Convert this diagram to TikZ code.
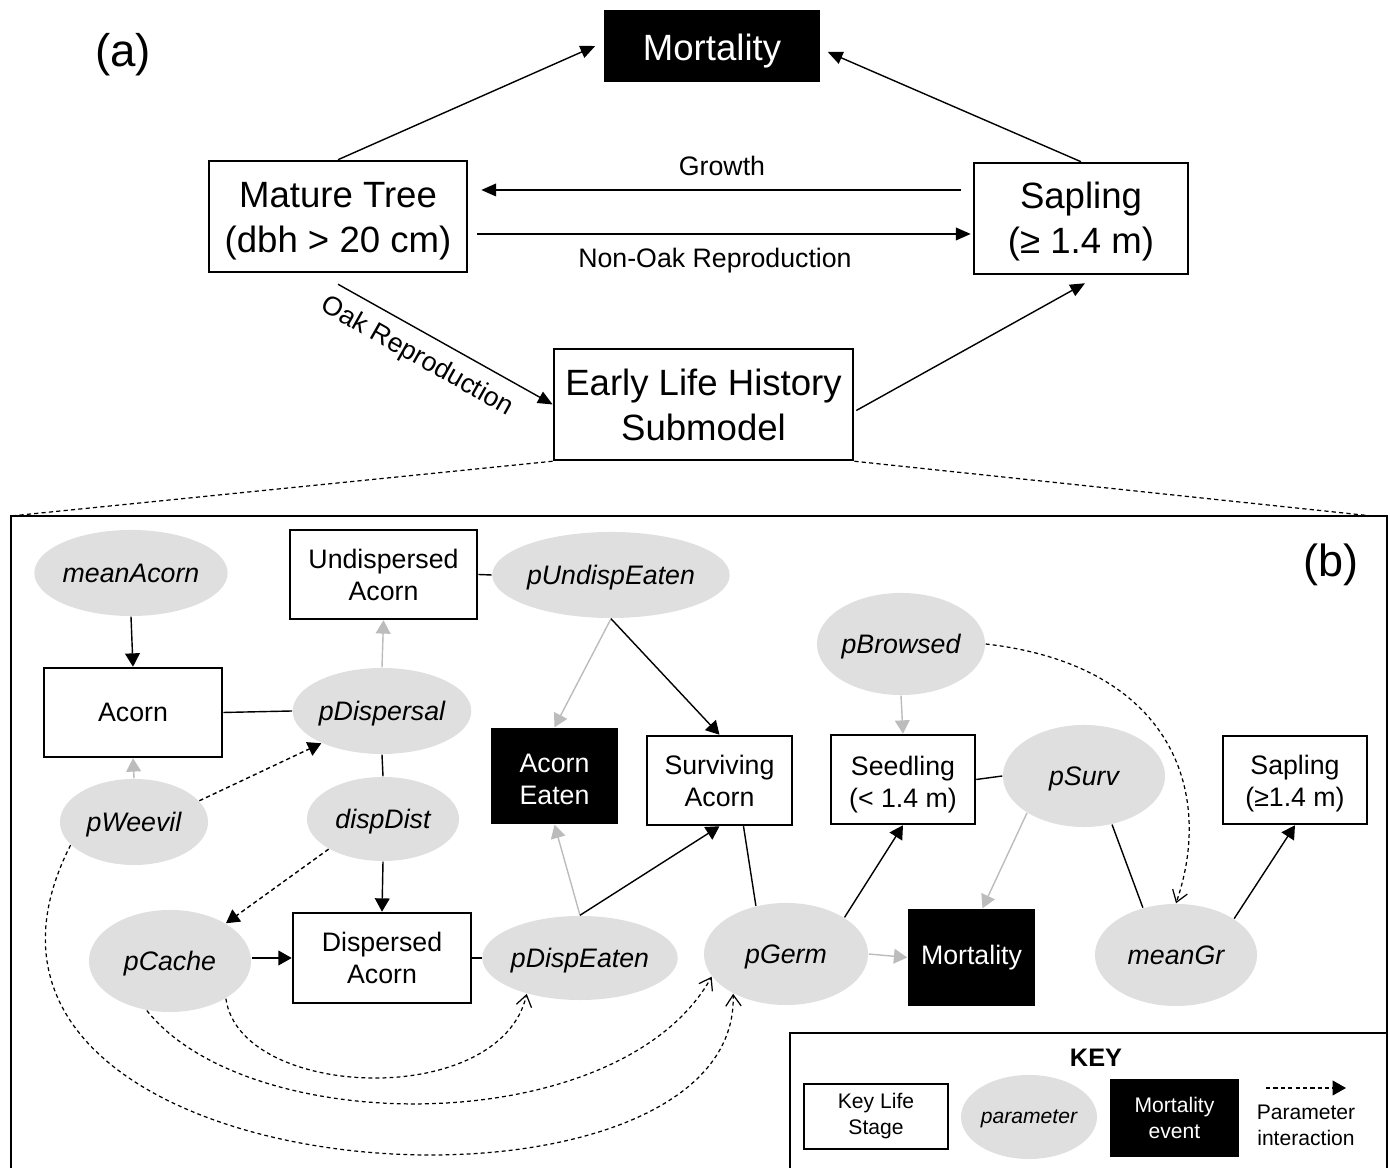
\documentclass[tikz,border=0pt]{standalone}
\usepackage{fontspec}
\setmainfont{Liberation Sans}
\usetikzlibrary{arrows.meta,shapes.geometric,calc}
\definecolor{ellgray}{RGB}{223,223,223}
\definecolor{arrgray}{RGB}{188,188,188}
\newcommand\fsz[2]{\fontsize{#1}{#2}\selectfont}
\newcommand\dnstrut[1]{\rule{0pt}{#1}}
\tikzset{
  box/.style={draw, line width=0.7pt, fill=white, inner sep=0pt, align=center, font=\fsz{7.6}{9.1}},
  bigbox/.style={box, font=\fsz{10.4}{12.8}},
  blk/.style={fill=black, text=white, inner sep=0pt, align=center, font=\fsz{7.6}{9.1}},
  par/.style={ellipse, fill=ellgray, inner sep=0pt, text depth=0pt, font=\itshape\fsz{7.6}{9.1}},
  lblA/.style={inner sep=0pt, font=\fsz{7.6}{9}},
  arrA/.style={-{Triangle[length=4.2pt,width=3.6pt]}, line width=0.4pt},
  arrB/.style={-{Triangle[length=3.8pt,width=4.2pt]}, line width=0.4pt},
  garr/.style={arrB, draw=arrgray},
  plain/.style={line width=0.4pt},
  darr/.style={arrB, dash pattern=on 1.2pt off 0.9pt},
  carr/.style={-{Straight Barb[length=3.2pt,width=4.4pt]}, line width=0.35pt, dash pattern=on 1.1pt off 0.9pt},
  zoomdash/.style={line width=0.35pt, dash pattern=on 1.2pt off 0.9pt},
  frame/.style={line width=0.8pt}
}
\begin{document}
\begin{tikzpicture}[x=0.01cm,y=-0.01cm]
\useasboundingbox (0,0) rectangle (1390,1168);

% ---------- panel (a) ----------
\node[font=\fsz{13}{15}] (lbla) at (123,55) {(a)};
\node[blk, font=\fsz{10.4}{12.8}, minimum width=2.16cm, minimum height=0.72cm] (mort1) at (712,46) {\dnstrut{10.4pt}Mortality};
\node[bigbox, minimum width=2.58cm, minimum height=1.11cm] (mature) at (338,216.5) {\dnstrut{9.9pt}Mature Tree\\(dbh > 20 cm)};
\node[bigbox, minimum width=2.14cm, minimum height=1.11cm] (sap1) at (1081,218.5) {\dnstrut{9.3pt}Sapling\\(≥ 1.4 m)};
\node[bigbox, minimum width=2.99cm, minimum height=1.11cm] (early) at (703.5,404.5) {Early Life History\\Submodel};

\draw[arrA] (mature.north) -- ($(mort1.west)+(-8,0)$);
\draw[arrA] (sap1.north) -- ($(mort1.east)+(7,6)$);
\draw[arrA] ($(sap1.west)+(-12,-28.5)$) -- ($(mature.east)+(13,-26.5)$);
\draw[arrA] ($(mature.east)+(9,17.5)$) -- ($(sap1.west)+(-2,15.5)$);
\draw[arrA] ($(mature.south)+(0,11)$) -- (early.west);
\draw[arrA] ($(early.east)+(2,6)$) -- ($(sap1.south)+(4,8)$);

\node[lblA] (lgrowth) at (722,166) {Growth};
\node[lblA] (lnonoak) at (715,261) {Non-Oak Reproduction};
\node[lblA, rotate=-29.5] (loak) at (417,357) {Oak Reproduction};

% ---------- zoom lines and frames ----------
\coordinate (fTL) at (11,516);
\coordinate (fTR) at (1387,516);
\coordinate (fBL) at (11,1185);
\coordinate (fBR) at (1387,1185);
\coordinate (zR) at (1372,516);
\draw[zoomdash] (early.south west) -- (fTL);
\draw[zoomdash] (early.south east) -- (zR);
\draw[frame] (fBL) -- (fTL) -- (fTR) -- (fBR);
\coordinate (kBL) at (790,1185);
\coordinate (kTL) at (790,1033);
\coordinate (kTR) at (1387,1033);
\draw[frame] (kBL) -- (kTL) -- (kTR);

% ---------- panel (b) ----------
\node[font=\fsz{12.8}{15}] (lblb) at (1331,565) {(b)};

\node[box, minimum width=1.78cm, minimum height=0.89cm] (acorn) at (133,712.5) {Acorn};
\node[box, minimum width=1.87cm, minimum height=0.89cm] (undisp) at (383.5,574.5) {Undispersed\\Acorn};
\node[blk, minimum width=1.27cm, minimum height=0.96cm] (eaten) at (554.5,776) {\dnstrut{7.2pt}Acorn\\Eaten};
\node[box, minimum width=1.45cm, minimum height=0.89cm] (surv) at (719.5,780.5) {Surviving\\Acorn};
\node[box, minimum width=1.44cm, minimum height=0.89cm] (seed) at (903,779.5) {\dnstrut{8.4pt}Seedling\\(< 1.4 m)};
\node[box, minimum width=1.44cm, minimum height=0.88cm] (sap2) at (1295,780) {\dnstrut{7.8pt}Sapling\\(≥1.4 m)};
\node[box, minimum width=1.78cm, minimum height=0.90cm] (disp) at (382,958) {Dispersed\\Acorn};
\node[blk, minimum width=1.27cm, minimum height=0.97cm] (mort2) at (971.5,957.5) {Mortality};

\node[par, minimum width=1.63cm, minimum height=0.86cm] (meanAcorn) at (131,573) {meanAcorn};
\node[par, minimum width=1.78cm, minimum height=0.86cm] (pDisp) at (382,711) {pDispersal};
\node[par, minimum width=1.48cm, minimum height=0.86cm] (pWeevil) at (134,822) {pWeevil};
\node[par, minimum width=1.52cm, minimum height=0.84cm] (dispDist) at (383,819) {dispDist};
\node[par, minimum width=2.18cm, minimum height=0.86cm] (pUE) at (611,575) {pUndispEaten};
\node[par, minimum width=1.64cm, minimum height=1.02cm] (pBrowsed) at (901,644) {pBrowsed};
\node[par, minimum width=1.62cm, minimum height=1.02cm] (pSurv) at (1084,776) {pSurv};
\node[par, minimum width=1.62cm, minimum height=1.02cm] (pCache) at (170,961) {pCache};
\node[par, minimum width=1.76cm, minimum height=0.84cm] (pDE) at (580,958) {pDispEaten};
\node[par, minimum width=1.64cm, minimum height=1.02cm] (pGerm) at (786,954) {pGerm};
\node[par, minimum width=1.62cm, minimum height=1.02cm] (meanGr) at (1176,955) {meanGr};

% edges
\draw[arrB] (meanAcorn.south) -- (acorn.north);
\draw[plain] (acorn.east) -- (pDisp.west);
\draw[garr] (pDisp.north) -- (undisp.south);
\draw[garr] (pWeevil.north) -- (acorn.south);
\draw[darr] (pWeevil.18) -- (pDisp.208);
\draw[plain] (pDisp.south) -- (dispDist.north);
\draw[arrB] (dispDist.south) -- (disp.north);
\draw[darr] (dispDist.209) -- (pCache.34);
\draw[arrB] (pCache.east |- disp.west) -- (disp.west);
\draw[plain] (disp.east) -- (pDE.west);
\draw[plain] (undisp.east) -- (pUE.west);
\draw[garr] (pUE.south) -- (eaten.north);
\draw[arrB] (pUE.south) -- (surv.north);
\draw[garr] (pDE.north) -- (eaten.south);
\draw[arrB] (pDE.north) -- (surv.south);
\draw[plain] ($(surv.south)+(24,0)$) -- (pGerm.122);
\draw[arrB] (pGerm.32) -- (seed.south);
\draw[garr] (pGerm.east) -- (mort2.west);
\draw[plain] (seed.east) -- (pSurv.west);
\draw[garr] (pBrowsed.south) -- (seed.north);
\draw[garr] (pSurv.213) -- ($(mort2.north)+(11,0)$);
\draw[plain] (pSurv.300) -- (meanGr.125);
\draw[arrB] (meanGr.32) -- (sap2.south);

% dashed parameter interactions
\draw[carr] (pBrowsed.east) .. controls (1170,665) and (1215,790) .. (meanGr.north);
\draw[carr] (pCache.326) .. controls (240,1100) and (500,1110) .. (pDE.214);
\draw[carr] (pCache.245) .. controls (250,1140) and (620,1140) .. (pGerm.197);
\draw[carr] (pWeevil.200) .. controls (-110,1200) and (740,1250) .. (pGerm.217);

% ---------- key ----------
\node[font=\bfseries\fsz{7.2}{8.5}] (keyt) at (1096,1058) {KEY};
\node[box, font=\fsz{6}{7.4}, minimum width=1.44cm, minimum height=0.65cm] (kls) at (876,1116.5) {Key Life\\Stage};
\node[par, font=\itshape\fsz{6}{7.4}, minimum width=1.34cm, minimum height=0.84cm] (kpar) at (1029,1117) {parameter};
\node[blk, font=\fsz{6}{7.4}, minimum width=1.29cm, minimum height=0.78cm] (kme) at (1174.5,1118) {Mortality\\event};
\coordinate (lgA) at (1266,1088);
\coordinate (lgB) at (1346,1088);
\draw[darr] (lgA) -- (lgB);
\node[align=center, inner sep=0pt, font=\fsz{6}{7.4}] (kpi) at (1306,1125) {Parameter\\interaction};
\end{tikzpicture}
\end{document}
